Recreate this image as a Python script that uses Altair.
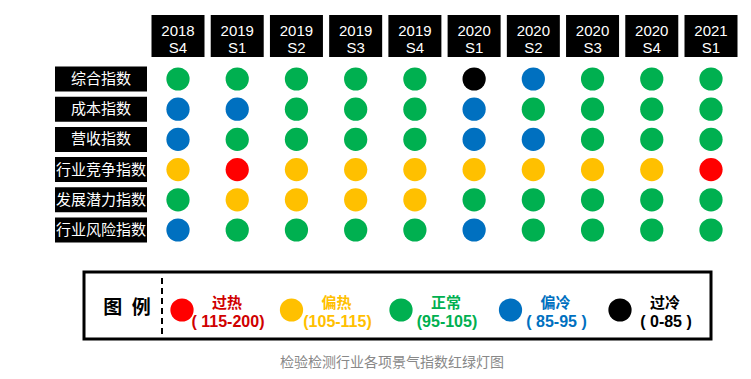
import altair as alt
import pandas as pd

# ---------------- data ----------------
periods = ["2018 S4", "2019 S1", "2019 S2", "2019 S3", "2019 S4",
           "2020 S1", "2020 S2", "2020 S3", "2020 S4", "2021 S1"]
indices = ["综合指数", "成本指数", "营收指数", "行业竞争指数", "发展潜力指数", "行业风险指数"]

statuses = ["过热", "偏热", "正常", "偏冷", "过冷"]
ranges = ["( 115-200)", "(105-115)", "(95-105)", "( 85-95 )", "( 0-85 )"]
status_colors = ["#ff0000", "#ffc000", "#00b050", "#0070c0", "#000000"]
label_colors = ["#d00000", "#ffc000", "#00b050", "#0070c0", "#000000"]

row_composite = ["正常", "正常", "正常", "正常", "正常", "过冷", "偏冷", "正常", "正常", "正常"]
row_cost = ["偏冷", "偏冷", "正常", "正常", "正常", "偏冷", "正常", "正常", "正常", "正常"]
row_revenue = ["偏冷", "正常", "正常", "正常", "正常", "偏冷", "偏冷", "正常", "正常", "正常"]
row_competition = ["偏热", "过热", "偏热", "偏热", "偏热", "偏热", "偏热", "偏热", "偏热", "过热"]
row_potential = ["正常", "偏热", "偏热", "偏热", "偏热", "正常", "正常", "正常", "正常", "正常"]
row_risk = ["偏冷", "正常", "正常", "正常", "正常", "偏冷", "正常", "正常", "正常", "正常"]
status_rows = [row_composite, row_cost, row_revenue, row_competition, row_potential, row_risk]

caption = "检验检测行业各项景气指数红绿灯图"
legend_title = "图\u2002例"

# ---------------- tables ----------------
grid = pd.DataFrame([
    {"col": c, "row": r, "status": s}
    for r, vals in enumerate(status_rows)
    for c, s in enumerate(vals)
])
headers = pd.DataFrame({"col": range(len(periods)), "label": periods})
rowlabels = pd.DataFrame({"row": range(len(indices)), "label": indices})
legend_df = pd.DataFrame({"i": range(len(statuses)), "status": statuses,
                          "range": ranges, "lc": label_colors})
one = pd.DataFrame({"a": [0]})

xs = alt.Scale(domain=[0, 9], range=[170, 703])
ys = alt.Scale(domain=[0, 5], range=[71, 222])
ls = alt.Scale(domain=[0, 4], range=[174, 612])
color = alt.Color("status:N", scale=alt.Scale(domain=statuses, range=status_colors), legend=None)

circles = alt.Chart(grid).mark_circle(size=540, opacity=1).encode(
    x=alt.X("col:Q", scale=xs, axis=None),
    y=alt.Y("row:Q", scale=ys, axis=None),
    color=color,
)

head_box = alt.Chart(headers).mark_rect(color="black", width=53).encode(
    x=alt.X("col:Q", scale=xs, axis=None),
    y=alt.value(7), y2=alt.value(49),
)
head_txt = alt.Chart(headers).mark_text(
    color="white", font="Liberation Sans", fontSize=15, lineBreak=" ",
    lineHeight=17, baseline="middle", align="center"
).encode(
    x=alt.X("col:Q", scale=xs, axis=None),
    y=alt.value(23),
    text="label:N",
)

row_box = alt.Chart(rowlabels).mark_rect(color="black", height=25).encode(
    x=alt.value(47), x2=alt.value(139),
    y=alt.Y("row:Q", scale=ys, axis=None),
)
row_txt = alt.Chart(rowlabels).mark_text(
    color="white", font="Noto Sans CJK SC", fontSize=15, baseline="middle", align="center"
).encode(
    x=alt.value(93),
    y=alt.Y("row:Q", scale=ys, axis=None),
    text="label:N",
)

leg_box = alt.Chart(one).mark_rect(fill="white", stroke="black", strokeWidth=3).encode(
    x=alt.value(76), x2=alt.value(703), y=alt.value(264), y2=alt.value(331),
)
leg_rule = alt.Chart(one).mark_rule(color="black", strokeWidth=2, strokeDash=[6, 4]).encode(
    x=alt.value(154), y=alt.value(270), y2=alt.value(326),
)
leg_title = alt.Chart(one).mark_text(
    font="Noto Sans CJK SC", fontSize=19, fontWeight="bold", color="black",
    baseline="middle", align="center"
).encode(x=alt.value(119), y=alt.value(300), text=alt.value(legend_title))

leg_dots = alt.Chart(legend_df).mark_circle(size=540, opacity=1).encode(
    x=alt.X("i:Q", scale=ls, axis=None),
    y=alt.value(302),
    color=color,
)
leg_name = alt.Chart(legend_df).mark_text(
    font="Noto Sans CJK SC", fontSize=15, fontWeight="bold", baseline="middle",
    align="center", dx=45
).encode(
    x=alt.X("i:Q", scale=ls, axis=None),
    y=alt.value(295),
    text="status:N",
    color=alt.Color("lc:N", scale=None),
)
leg_range = alt.Chart(legend_df).mark_text(
    font="Liberation Sans", fontSize=16, fontWeight="bold", baseline="middle",
    align="center", dx=46
).encode(
    x=alt.X("i:Q", scale=ls, axis=None),
    y=alt.value(314),
    text="range:N",
    color=alt.Color("lc:N", scale=None),
)

cap = alt.Chart(one).mark_text(
    font="Noto Sans CJK SC", fontSize=14, color="#888888", baseline="middle", align="center"
).encode(x=alt.value(384), y=alt.value(355), text=alt.value(caption))

chart = alt.layer(
    head_box, head_txt, row_box, row_txt, circles,
    leg_box, leg_rule, leg_title, leg_dots, leg_name, leg_range, cap
).resolve_scale(x="independent", y="independent", color="independent").properties(
    width=735, height=363,
    autosize=alt.AutoSizeParams(type="none"),
    padding=0,
    background="white",
).configure_view(stroke=None)

chart.save("out.html", embed_options={"renderer": "svg", "actions": False})
